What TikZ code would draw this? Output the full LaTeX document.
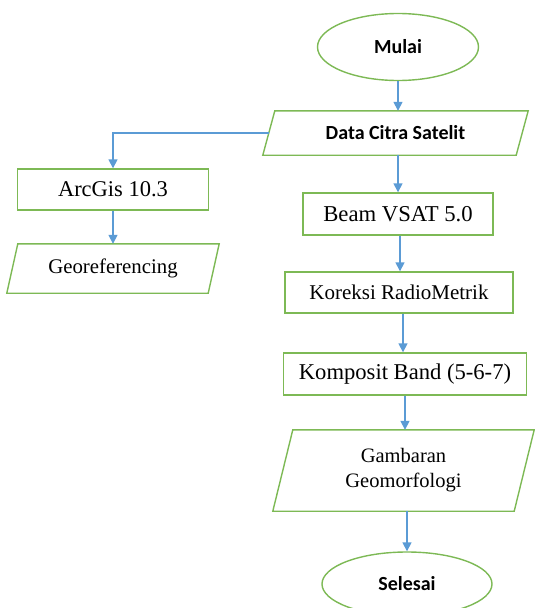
\documentclass[tikz,border=0pt]{standalone}
\usepackage{fontspec}
\setmainfont{Liberation Serif}
\newfontfamily\calib{Carlito}
\usetikzlibrary{arrows.meta,shapes.geometric}
\definecolor{boxgreen}{RGB}{125,185,85}
\definecolor{arrowblue}{RGB}{91,155,213}
\tikzset{
  procbox/.style={draw=boxgreen, line width=1.4pt, rectangle, inner sep=0pt, font=\fontsize{21}{25}\selectfont},
  iobox/.style={rectangle, inner sep=0pt, align=center, font=\fontsize{20.5}{25}\selectfont},
  iodraw/.style={draw=boxgreen, line width=1.4pt, line join=miter},
  termbox/.style={draw=boxgreen, line width=1.4pt, ellipse, inner sep=0pt, font=\calib\bfseries\fontsize{20}{24}\selectfont},
  boldtext/.style={font=\calib\bfseries\fontsize{20}{24}\selectfont},
  flow/.style={draw=arrowblue, line width=1.6pt, -{Triangle[length=9pt,width=9pt]}}
}
\begin{document}
\begin{tikzpicture}[x=1pt,y=-1pt]
\useasboundingbox (0,0) rectangle (535,608);
% terminals
\node[termbox, minimum width=161pt, minimum height=67pt] (mulai) at (398,47) {Mulai};
\node[termbox, minimum width=170pt, minimum height=64pt] (selesai) at (407,584) {Selesai};
% data citra (parallelogram)
\node[iobox, boldtext, minimum width=265pt, minimum height=44pt] (dc) at (395.5,133) {Data Citra Satelit};
\draw[iodraw] ([xshift=12pt]dc.north west) -- (dc.north east) -- ([xshift=-12pt]dc.south east) -- (dc.south west) -- cycle;
% left branch
\node[procbox, minimum width=191pt, minimum height=41pt, font=\fontsize{22.5}{25}\selectfont] (arc) at (113,189.5) {ArcGis 10.3};
\node[iobox, minimum width=212pt, minimum height=49pt, font=\fontsize{20.8}{24}\selectfont] (geo) at (113,268.5) {Georeferencing};
\draw[iodraw] ([xshift=11pt]geo.north west) -- (geo.north east) -- ([xshift=-11pt]geo.south east) -- (geo.south west) -- cycle;
% main column
\node[procbox, minimum width=190pt, minimum height=42pt, font=\fontsize{22.7}{25}\selectfont] (beam) at (398,214) {Beam VSAT 5.0};
\node[procbox, minimum width=228pt, minimum height=41pt] (kor) at (399,292.5) {Koreksi RadioMetrik};
\node[procbox, minimum width=243pt, minimum height=42pt, font=\fontsize{22.6}{25}\selectfont] (komp) at (405,374) {Komposit Band (5-6-7)};
\node[iobox, minimum width=261pt, minimum height=81pt] (gamb) at (403.5,470.5) {Gambaran\\Geomorfologi};
\draw[iodraw] ([xshift=20pt]gamb.north west) -- (gamb.north east) -- ([xshift=-20pt]gamb.south east) -- (gamb.south west) -- cycle;
% connectors
\draw[flow] (mulai.south) -- (mulai.south |- dc.north);
\draw[flow] (dc.south -| beam.north) -- (beam.north);
\draw[flow] ([xshift=6pt]dc.west) -| (arc.north);
\draw[flow] (arc.south) -- (arc.south |- geo.north);
\draw[flow] ([xshift=2pt]beam.south) -- ([xshift=2pt]beam.south |- kor.north);
\draw[flow] ([xshift=4pt]kor.south) -- ([xshift=4pt]kor.south |- komp.north);
\draw[flow] (komp.south) -- (komp.south |- gamb.north);
\draw[flow] (gamb.south -| selesai.north) -- (selesai.north);
\end{tikzpicture}
\end{document}
